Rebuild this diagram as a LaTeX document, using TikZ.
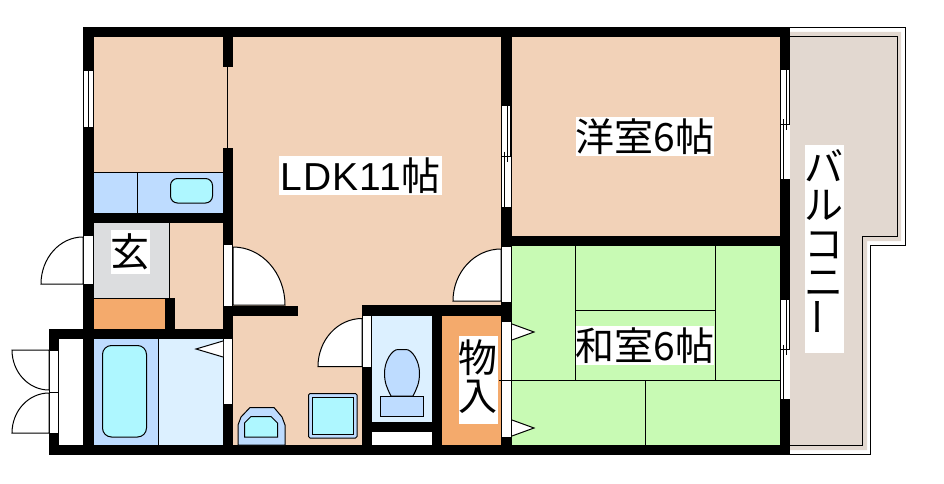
\documentclass[tikz,border=0pt]{standalone}
\usepackage{fontspec}
\usepackage{tikz}
\setmainfont{Noto Sans CJK JP}
\newfontfamily\latinfont[LetterSpace=3]{Liberation Sans}
\definecolor{colRoom}{HTML}{F2D2B8}
\definecolor{colTatami}{HTML}{C8FAB4}
\definecolor{colFixture}{HTML}{BEDCFF}
\definecolor{colWet}{HTML}{DCF0FF}
\definecolor{colBasin}{HTML}{AEF7FF}
\definecolor{colStore}{HTML}{F4AA6C}
\definecolor{colEntry}{HTML}{DCDDDF}
\definecolor{colBalcony}{HTML}{E2D8D0}
% door leaf: hinge x, hinge y, signed reach along x, signed reach along y
\newcommand{\doorleaf}[4]{
	\draw[thinline, fill=white] (#1,#2) -- ({#1+#3},#2) .. controls ({#1+#3},{#2+0.5523*#4}) and ({#1+0.5523*#3},{#2+#4}) .. (#1,{#2+#4}) -- cycle;
}
% sliding window in a wall 10 wide: left x, top y, bottom y
\newcommand{\slidewindow}[3]{
	\fill[white] (#1,#2) rectangle ({#1+10},#3);
	\draw[thinline] ({#1+0.5},#2) -- ({#1+0.5},#3);
	\draw[thinline] ({#1+3},{(#2+#3)/2-5}) -- ({#1+3},#3);
	\draw[thinline] ({#1+6.5},#2) -- ({#1+6.5},{(#2+#3)/2+5});
	\draw[thinline] ({#1+9},#2) -- ({#1+9},{(#2+#3)/2});
	\draw[thinline] ({#1+0.5},{(#2+#3)/2}) -- ({#1+9},{(#2+#3)/2});
}
\begin{document}
\begin{tikzpicture}[
		x=1pt, y=-1pt,
		thinline/.style={draw=black, line width=1pt},
		wall/.style={fill=black},
		opening/.style={fill=white},
		roomlabel/.style={fill=white, inner sep=0pt, align=center, font=\fontsize{39}{38.5}\selectfont}
		]
		\useasboundingbox (0,0) rectangle (944,484);
		
		%% ================= FLOORS =================
		\fill[colRoom] (94,37) rectangle (501,445);
		\fill[colRoom] (512,37) rectangle (780,236);
		\fill[colTatami] (512,246) rectangle (780,445);
		\fill[colFixture] (94,172) rectangle (223,213);
		\fill[colEntry] (94,223) rectangle (169,298);
		\fill[colStore] (94,298) rectangle (165,329);
		\fill[colFixture] (94,339) rectangle (158,445);
		\fill[colWet] (158,339) rectangle (223,445);
		\fill[colWet] (372,316) rectangle (432,422);
		\fill[white] (372,432) rectangle (432,445);
		\fill[colStore] (442,316) rectangle (501,445);
		
		% Balcony
		\fill[colBalcony] (790,32) -- (901,32) -- (901,241) -- (867,241) -- (867,450) -- (790,450) -- cycle;
		\draw[thinline] (790,36.5) -- (897,36.5) -- (897,236.5) -- (862,236.5) -- (862,445.5) -- (790,445.5);
		\draw[thinline] (790,27.5) -- (905.5,27.5) -- (905.5,245.5) -- (870.5,245.5) -- (870.5,454.5) -- (790,454.5);
		
		%% ================= WALLS =================
		\fill[wall] (83,27) rectangle (790,37);
		\fill[wall] (49,445) rectangle (790,455);
		\fill[wall] (83,27) rectangle (94,455);
		\fill[wall] (49,329) rectangle (233,339);
		\fill[wall] (49,329) rectangle (59,455);
		\fill[wall] (223,27) rectangle (233,67);
		\fill[wall] (223,148) rectangle (233,455);
		\fill[wall] (83,213) rectangle (233,223);
		\fill[wall] (223,306) rectangle (298,316);
		\fill[wall] (165,298) rectangle (175,329);
		\fill[wall] (501,27) rectangle (512,455);
		\fill[wall] (501,236) rectangle (790,246);
		\fill[wall] (780,27) rectangle (790,455);
		\fill[wall] (362,305) rectangle (512,316);
		\fill[wall] (362,305) rectangle (372,455);
		\fill[wall] (432,305) rectangle (442,445);
		\fill[wall] (372,422) rectangle (432,432);
		
		%% ================= OPENINGS =================
		\fill[opening] (84,71) rectangle (93,127);
		\draw[thinline] (88.5,70) -- (88.5,127);
		\fill[opening] (59,339) rectangle (83,445);
		\fill[opening] (49.5,350) rectangle (58.5,433);
		\draw[thinline] (49.5,350) rectangle (58.5,433);
		\draw[thinline] (49,392.5) -- (59,392.5);
		\fill[opening] (84,235) rectangle (93,284);
		\draw[thinline] (83.5,235) rectangle (93.5,284);
		\fill[opening] (224,245) rectangle (232,306);
		\fill[opening] (224,339) rectangle (232,404);
		\fill[opening] (363,316) rectangle (371,367);
		\fill[opening] (502,247) rectangle (511,302);
		\draw[thinline] (511.5,247) -- (511.5,302);
		\fill[opening] (502,322) rectangle (511,437);
		\draw[thinline] (511.5,322) -- (511.5,437);
		\slidewindow{501}{106}{207}
		\slidewindow{780}{70}{179}
		\slidewindow{780}{300}{399}
		
		%% ================= DOORS =================
		\doorleaf{83}{284}{-42}{-47}
		\doorleaf{49}{350}{-37}{40}
		\doorleaf{49}{433}{-37}{-40}
		\doorleaf{233}{305}{52}{-58}
		\doorleaf{362}{366.5}{-44}{-48}
		\doorleaf{501}{301}{-48}{-52}
		\draw[thinline, fill=white] (223,341) -- (196,349) -- (223,357);
		\draw[thinline, fill=white] (512,324) -- (534,332) -- (512,340);
		\draw[thinline, fill=white] (512,420) -- (534,428) -- (512,436);
		
		%% ================= THIN LINES =================
		\draw[thinline] (227.5,67) -- (227.5,148);
		\draw[thinline] (94,172.5) -- (223,172.5);
		\draw[thinline] (137.5,172) -- (137.5,213);
		\draw[thinline] (169.5,223) -- (169.5,298);
		\draw[thinline] (94,298.5) -- (165,298.5);
		\draw[thinline] (158.5,339) -- (158.5,445);
		% Tatami
		\draw[thinline] (575.5,246) -- (575.5,380);
		\draw[thinline] (715.5,246) -- (715.5,380);
		\draw[thinline] (575,310.5) -- (715,310.5);
		\draw[thinline] (499,380.5) -- (780,380.5);
		\draw[thinline] (645.5,380) -- (645.5,445);
		
		%% ================= FIXTURES =================
		\draw[thinline, fill=colBasin, rounded corners=7pt] (170.5,178.5) rectangle (212.5,203);
		\draw[thinline, fill=colBasin, rounded corners=9pt] (102.5,345.5) rectangle (146.5,437);
		% Wash basin
		\draw[thinline, fill=colFixture] (238,445) -- (238,425) -- (241,417) -- (250,407.5) -- (274,407.5) -- (282,417) -- (285,425) -- (285,445) -- cycle;
		\draw[thinline, fill=colBasin] (244.5,437) -- (244.5,423) -- (251,416.5) -- (271,416.5) -- (277.5,423) -- (277.5,437) -- cycle;
		% Washing machine
		\draw[thinline, fill=colFixture, rounded corners=1.5pt] (308.5,393.5) rectangle (357,438);
		\draw[thinline, fill=colBasin] (312.5,397.5) rectangle (353.5,434);
		% Toilet
		\draw[thinline, fill=colFixture] (391,396) .. controls (387,388) and (384.5,383) .. (384.5,373) .. controls (384.5,361) and (392,349.5) .. (398,349.5) -- (406,349.5) .. controls (412,349.5) and (419.5,361) .. (419.5,373) .. controls (419.5,383) and (417,388) .. (413,396) -- cycle;
		\draw[thinline, fill=colFixture] (380.5,396.5) rectangle (423.5,416.5);
		
		%% ================= LABELS =================
		\node[roomlabel, minimum width=163pt, minimum height=39pt] (ldk) at (360.5,175.5) {{\latinfont\fontsize{39}{39}\selectfont LDK11}帖};
		\node[roomlabel, minimum width=138pt, minimum height=39pt] (western) at (645,136.5) {洋室6帖};
		\node[roomlabel, minimum width=138pt, minimum height=39pt] (japanese) at (645,345.5) {和室6帖};
		\node[roomlabel, minimum width=38pt, minimum height=44pt] (entry) at (130,252) {玄};
		\node[roomlabel, minimum width=38pt, minimum height=88pt] (closet) at (478,380) {物\\\raisebox{0pt}[\height][10pt]{入}};
		\node[roomlabel, minimum width=38pt, minimum height=208pt] (balcony) at (824,249) {バ\\ル\\コ\\ニ\\\raisebox{0pt}[\height][12pt]{\rotatebox{90}{ー}}};
\end{tikzpicture}
\end{document}
